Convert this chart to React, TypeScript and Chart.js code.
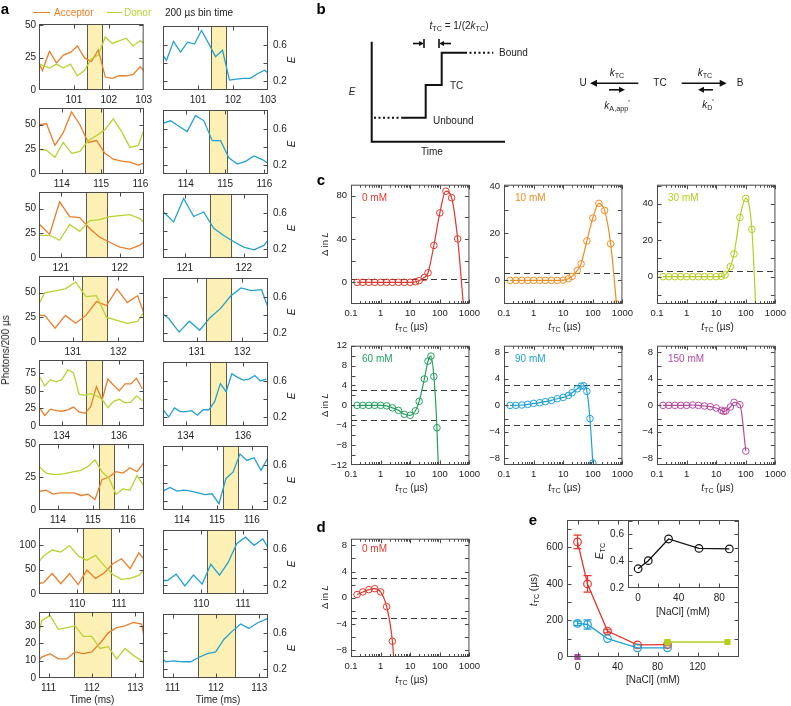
import React, { useEffect, useRef } from 'react';
import { Chart, registerables } from 'chart.js';

Chart.register(...registerables);

const FONT = '"Liberation Sans", Arial, Helvetica, sans-serif';
Chart.defaults.font.family = FONT;

// ---------------- Panel a data ----------------
const rowWindowStart = [100.0, 113.42, 120.63, 130.26, 133.21, 113.46, 109.08, 110.78];
const rowWindowEnd = [103.0, 116.09, 122.41, 132.56, 136.87, 116.46, 111.6, 113.2];
const rowTimeTicks = [[101, 102, 103], [114, 115, 116], [121, 122], [131, 132], [134, 136], [114, 115, 116], [110, 111], [111, 112, 113]];
const rowPhotonMax = [51, 67, 67, 67, 94, 50, 135, 38];
const rowPhotonTicks = [[0, 25, 50], [0, 25, 50], [0, 25, 50], [0, 25, 50], [0, 25, 50, 75], [0, 25, 50], [0, 50, 100], [0, 10, 20, 30]];
const shadeStart = [101.37, 114.58, 121.42, 131.21, 134.85, 115.16, 110.13, 111.59];
const shadeEnd = [101.8, 115.06, 121.79, 131.76, 135.41, 115.59, 110.8, 112.43];
const binStart = [99.9, 113.4, 120.64, 130.16, 133.21, 113.46, 108.98, 110.65];
const binWidth = [0.2, 0.212, 0.17, 0.226, 0.2, 0.2, 0.208, 0.192];
const fretTicks = [0.2, 0.4, 0.6];
const fretLabels = [0.2, 0.6];

const acceptor1 = [26, 15, 30, 21, 27, 29, 34, 25, 22, 31, 10, 9, 11, 11, 12, 18, 12];
const donor1 = [22, 19, 17, 20, 17, 20, 11, 15, 24, 27, 41, 36, 38, 40, 34, 38, 35];
const fret1 = [0.54, 0.43, 0.64, 0.52, 0.63, 0.61, 0.76, 0.62, 0.47, 0.54, 0.21, 0.22, 0.23, 0.23, 0.28, 0.32, 0.26];
const acceptor2 = [50, 51, 29, 42, 63, 50, 32, 34, 21, 15, 13, 12, 9, 12];
const donor2 = [25, 24, 17, 32, 21, 23, 34, 39, 45, 56, 43, 27, 29, 52];
const fret2 = [0.66, 0.69, 0.63, 0.57, 0.75, 0.69, 0.47, 0.47, 0.28, 0.21, 0.24, 0.3, 0.26, 0.2];
const acceptor3 = [34, 24, 57, 42, 41, 30, 21, 16, 11, 9, 13, 21];
const donor3 = [23, 23, 18, 34, 27, 38, 39, 42, 43, 44, 40, 30];
const fret3 = [0.61, 0.5, 0.76, 0.56, 0.61, 0.43, 0.35, 0.28, 0.22, 0.19, 0.24, 0.38];
const acceptor4 = [27, 27, 14, 27, 19, 27, 41, 37, 54, 40, 47, 18];
const donor4 = [30, 50, 52, 54, 61, 46, 47, 25, 22, 19, 21, 36];
const fret4 = [0.45, 0.36, 0.21, 0.33, 0.23, 0.37, 0.47, 0.61, 0.7, 0.67, 0.68, 0.36];
const acceptor5 = [27, 15, 24, 22, 21, 23, 27, 20, 18, 27, 56, 37, 67, 58, 50, 60, 60, 68, 53];
const donor5 = [72, 57, 66, 63, 66, 80, 76, 45, 44, 46, 43, 38, 26, 35, 38, 33, 34, 43, 36];
const fret5 = [0.28, 0.2, 0.3, 0.26, 0.26, 0.27, 0.22, 0.28, 0.28, 0.37, 0.57, 0.48, 0.68, 0.64, 0.61, 0.62, 0.66, 0.6, 0.62];
const acceptor6 = [14, 15, 12, 13, 13, 13, 11, 12, 8, 23, 25, 29, 28, 32, 29, 36];
const donor6 = [33, 28, 27, 27, 28, 29, 30, 33, 38, 29, 24, 12, 16, 15, 26, 18];
const fret6 = [0.31, 0.35, 0.31, 0.32, 0.31, 0.29, 0.27, 0.28, 0.17, 0.45, 0.52, 0.72, 0.65, 0.68, 0.54, 0.68];
const acceptor7 = [20, 23, 42, 21, 42, 19, 49, 32, 43, 62, 72, 52, 84, 62];
const donor7 = [55, 78, 90, 86, 99, 78, 69, 79, 58, 40, 30, 32, 38, 56];
const fret7 = [0.25, 0.25, 0.32, 0.19, 0.31, 0.21, 0.43, 0.31, 0.45, 0.66, 0.73, 0.64, 0.71, 0.55];
const acceptor8 = [6, 12, 14, 11, 11, 15, 14, 15, 20, 26, 29, 30, 32, 31, 5];
const donor8 = [10, 33, 36, 28, 29, 30, 24, 24, 17, 18, 11, 17, 13, 10, 3];
const fret8 = [0.37, 0.28, 0.29, 0.28, 0.28, 0.33, 0.37, 0.39, 0.53, 0.62, 0.7, 0.65, 0.71, 0.75, 0.8];

const acceptorRows = [acceptor1, acceptor2, acceptor3, acceptor4, acceptor5, acceptor6, acceptor7, acceptor8];
const donorRows = [donor1, donor2, donor3, donor4, donor5, donor6, donor7, donor8];
const fretRows = [fret1, fret2, fret3, fret4, fret5, fret6, fret7, fret8];

// ---------------- Panel b (schematic, in schematic units) ----------------
const schemeAxisT = [0, 0, 133.3];
const schemeAxisE = [100, 0, 0];
const schemeUnboundT = [2.3, 30];
const schemeUnboundE = [24, 24];
const schemeTraceT = [30, 54, 54, 70, 70, 93.3];
const schemeTraceE = [24, 24, 56.7, 56.7, 89, 89];
const schemeBoundT = [93.3, 121.6];
const schemeBoundE = [89, 89];

// ---------------- Panel c / d data ----------------
const tTC0 = [0.16, 0.25, 0.4, 0.63, 1, 1.6, 2.5, 4, 6.3, 10, 15, 20, 30, 40, 63, 100, 160, 250, 400, 630];
const dL0 = [0, 0, 0, 0, 0, 0, 0, 0, 0, 0, 0.5, 1.5, 4.5, 8.8, 34, 64, 84, 78, 40, -22];
const tTC10 = [0.16, 0.25, 0.4, 0.63, 1, 1.6, 2.5, 4, 6.3, 10, 15, 20, 30, 40, 63, 100, 160, 250, 400, 630];
const dL10 = [0, 0, 0, 0, 0, 0, 0, 0, 0, 0.1, 0.7, 1.7, 4.2, 7, 16.7, 26.4, 32.6, 29.6, 15.5, -10];
const tTC30 = [0.16, 0.25, 0.4, 0.63, 1, 1.6, 2.5, 4, 6.3, 10, 15, 20, 30, 40, 63, 100, 160, 250];
const dL30 = [0, 0, 0, 0, 0, 0, 0, 0, 0, 0, 0.2, 1, 5.5, 12.5, 32.5, 43, 26, -41];
const tTC60 = [0.16, 0.25, 0.4, 0.63, 1, 1.6, 2.5, 4, 6.3, 10, 15, 20, 30, 40, 50, 63, 80, 90];
const dL60 = [0, 0, 0, 0, 0, -0.1, -0.5, -1.0, -1.8, -2.0, -1.1, 0.8, 5.3, 8.9, 9.9, 5.8, -4.5, -13.5];
const tTC90 = [0.16, 0.25, 0.4, 0.63, 1, 1.6, 2.5, 4, 6.3, 10, 15, 20, 30, 40, 50, 63, 80, 100];
const dL90 = [0, 0, 0.05, 0.15, 0.3, 0.4, 0.55, 0.75, 1.0, 1.2, 1.5, 1.9, 2.5, 2.9, 2.95, 2.1, -2.0, -8.7];
const tTC150 = [0.16, 0.25, 0.4, 0.63, 1, 1.6, 2.5, 4, 6.3, 10, 15, 18, 21, 30, 40, 63, 100];
const dL150 = [0, 0, 0, 0, 0, 0.05, 0, -0.1, -0.2, -0.4, -0.75, -0.9, -0.85, -0.25, 0.45, 0.1, -6.9];
const tTCd = [0.16, 0.25, 0.4, 0.63, 1, 1.6, 2.5, 4];
const dLd = [0.5, 0.9, 1.25, 1.4, 0.9, -1.35, -6.6, -20];
const logTicks = [0.1, 1, 10, 100, 1000];

// ---------------- Panel e data ----------------
const naclConc = [0, 10, 30, 60, 90];
const tcMethodRed = [630, 400, 142, 66, 68];
const tcMethodRedErr = [37, 45, 10, 0, 0];
const tcMethodBlue = [184, 178, 101, 50, 50];
const tcMethodBlueErr = [12, 25, 0, 0, 0];
const naclHigh = [90, 150];
const tcHigh = [82, 82];
const naclOrange = [90];
const tcOrange = [74];
const naclPurple = [0];
const tcPurple = [0];
const eTC = [0.343, 0.403, 0.564, 0.494, 0.49];

// ---------------- Colours ----------------
const ACC = '#eb7d28';
const DON = '#b9d232';
const EBLUE = '#23a0d2';
const SHADE = '#fdf0b4';
const FRAME = '#4a4a4a';
const C_RED = '#e1372d';
const C_ORANGE = '#f08c23';
const C_YG = '#b4cd1e';
const C_GREEN = '#23a05f';
const C_BLUE = '#1ea0d7';
const C_MAG = '#b44ba0';

type Ax = { min: number; max: number; ticks: number[]; labels: number[]; log?: boolean };

const pts = (xs: number[], ys: number[]) => xs.map((x, i) => ({ x, y: ys[i] }));

function fmt(v: number) {
  return v < 0 ? '\u2212' + String(-v) : String(v);
}

const framePlugin = {
  id: 'frame',
  beforeDatasetsDraw(chart: any, _args: any, o: any) {
    const { ctx, chartArea: a } = chart;
    const xs = chart.scales.x;
    const ys = chart.scales.y;
    ctx.save();
    if (o.fill) {
      ctx.fillStyle = o.fill;
      ctx.fillRect(a.left, a.top, a.right - a.left, a.bottom - a.top);
    }
    if (o.shade) {
      const x1 = Math.round(xs.getPixelForValue(o.shade[0]));
      const x2 = Math.round(xs.getPixelForValue(o.shade[1]));
      ctx.fillStyle = SHADE;
      ctx.fillRect(x1, a.top, x2 - x1, a.bottom - a.top);
      ctx.strokeStyle = '#5f5b4a';
      ctx.lineWidth = 1;
      [x1, x2].forEach((xx) => {
        ctx.beginPath();
        ctx.moveTo(xx + 0.5, a.top);
        ctx.lineTo(xx + 0.5, a.bottom);
        ctx.stroke();
      });
    }
    if (o.hlines) {
      ctx.strokeStyle = '#3a3a3a';
      ctx.lineWidth = 1;
      ctx.setLineDash([6, 4]);
      o.hlines.forEach((v: number) => {
        const yy = Math.round(ys.getPixelForValue(v)) + 0.5;
        ctx.beginPath();
        ctx.moveTo(a.left, yy);
        ctx.lineTo(a.right, yy);
        ctx.stroke();
      });
      ctx.setLineDash([]);
    }
    ctx.restore();
  },
  afterDatasetsDraw(chart: any, _args: any, o: any) {
    const { ctx, chartArea: a } = chart;
    const xs = chart.scales.x;
    const ys = chart.scales.y;
    ctx.save();
    if (o.errors) {
      o.errors.forEach((e: any) => {
        const ds = chart.data.datasets[e.ds];
        ctx.strokeStyle = ds.borderColor;
        ctx.lineWidth = 1.2;
        ds.data.forEach((p: any, i: number) => {
          const err = e.err[i];
          if (!err) return;
          const px = xs.getPixelForValue(p.x);
          const y1 = ys.getPixelForValue(p.y + err);
          const y2 = ys.getPixelForValue(p.y - err);
          ctx.beginPath();
          ctx.moveTo(px, y1);
          ctx.lineTo(px, y2);
          ctx.moveTo(px - 4, y1);
          ctx.lineTo(px + 4, y1);
          ctx.moveTo(px - 4, y2);
          ctx.lineTo(px + 4, y2);
          ctx.stroke();
        });
      });
    }
    const L = a.left + 0.5;
    const R = a.right - 0.5;
    const T = a.top + 0.5;
    const B = a.bottom - 0.5;
    ctx.strokeStyle = FRAME;
    ctx.lineWidth = 1;
    const seg = (x1: number, y1: number, x2: number, y2: number) => {
      ctx.beginPath();
      ctx.moveTo(x1, y1);
      ctx.lineTo(x2, y2);
      ctx.stroke();
    };
    const major = 4;
    const minor = 2.5;
    xs.ticks.forEach((t: any) => {
      const p = Math.round(xs.getPixelForValue(t.value)) + 0.5;
      if (p < L - 0.6 || p > R + 0.6) return;
      seg(p, B, p, B - major);
      seg(p, T, p, T + major);
    });
    if (xs.type === 'logarithmic') {
      const d0 = Math.floor(Math.log10(xs.min));
      const d1 = Math.ceil(Math.log10(xs.max));
      for (let d = d0; d < d1; d++) {
        for (let m = 2; m <= 9; m++) {
          const v = m * Math.pow(10, d);
          if (v <= xs.min || v >= xs.max) continue;
          const p = Math.round(xs.getPixelForValue(v)) + 0.5;
          seg(p, B, p, B - minor);
          seg(p, T, p, T + minor);
        }
      }
    }
    ys.ticks.forEach((t: any) => {
      const p = Math.round(ys.getPixelForValue(t.value)) + 0.5;
      if (p < T - 0.6 || p > B + 0.6) return;
      seg(L, p, L + major, p);
      seg(R, p, R - major, p);
    });
    ctx.strokeRect(L, T, R - L, B - T);
    ctx.restore();
  },
};

const schemePlugin = {
  id: 'scheme',
  afterDatasetsDraw(chart: any, _args: any, o: any) {
    const { ctx } = chart;
    const xs = chart.scales.x;
    const ys = chart.scales.y;
    ctx.save();
    ctx.strokeStyle = '#111';
    ctx.fillStyle = '#111';
    (o.arrows || []).forEach((ar: number[]) => {
      const x1 = xs.getPixelForValue(ar[0]);
      const y1 = ys.getPixelForValue(ar[1]);
      const x2 = xs.getPixelForValue(ar[2]);
      const y2 = ys.getPixelForValue(ar[3]);
      const head = ar[4];
      const dir = Math.sign(x2 - x1);
      ctx.lineWidth = 1.6;
      ctx.beginPath();
      ctx.moveTo(x1, y1);
      ctx.lineTo(x2 - dir * head * 0.8, y2);
      ctx.stroke();
      ctx.beginPath();
      ctx.moveTo(x2, y2);
      ctx.lineTo(x2 - dir * head, y2 - head * 0.5);
      ctx.lineTo(x2 - dir * head, y2 + head * 0.5);
      ctx.closePath();
      ctx.fill();
    });
    (o.bars || []).forEach((b: number[]) => {
      const x = xs.getPixelForValue(b[0]);
      ctx.lineWidth = 1.6;
      ctx.beginPath();
      ctx.moveTo(x, ys.getPixelForValue(b[1]));
      ctx.lineTo(x, ys.getPixelForValue(b[2]));
      ctx.stroke();
    });
    ctx.restore();
  },
};

function axisOpts(ax: Ax, position: string, size: number, fontSize: number, pad: number) {
  return {
    type: ax.log ? 'logarithmic' : 'linear',
    position,
    min: ax.min,
    max: ax.max,
    grid: { display: false, drawTicks: false },
    border: { display: false },
    afterBuildTicks: (s: any) => {
      s.ticks = ax.ticks.map((v) => ({ value: v }));
    },
    afterFit: (s: any) => {
      if (position === 'bottom') s.height = size;
      else s.width = size;
    },
    ticks: {
      autoSkip: false,
      maxRotation: 0,
      minRotation: 0,
      padding: pad,
      color: '#222',
      font: { size: fontSize, family: FONT },
      callback: (v: number) => (ax.labels.indexOf(v) >= 0 ? fmt(v) : ''),
    },
  };
}

interface PlotSpec {
  px: number; py: number; pw: number; ph: number;
  ml: number; mr: number; mt: number; mb: number;
  x: Ax; y: Ax; yPos: 'left' | 'right';
  datasets: any[]; fontSize: number; xPad: number; yPad: number;
  frame: any;
}

type Built = { left: number; top: number; width: number; height: number; config: any };

function buildPlot(s: PlotSpec): Built {
  const width = s.ml + s.pw + s.mr;
  const height = s.mt + s.ph + s.mb;
  const config = {
    type: 'line',
    data: { datasets: s.datasets },
    options: {
      responsive: false,
      animation: false,
      events: [],
      layout: {
        padding: {
          left: s.yPos === 'left' ? 0 : s.ml,
          right: s.yPos === 'right' ? 0 : s.mr,
          top: s.mt,
          bottom: 0,
        },
      },
      plugins: { legend: { display: false }, tooltip: { enabled: false }, frame: s.frame },
      scales: {
        x: axisOpts(s.x, 'bottom', s.mb, s.fontSize, s.xPad),
        y: axisOpts(s.y, s.yPos, s.yPos === 'left' ? s.ml : s.mr, s.fontSize, s.yPad),
      },
    },
    plugins: [framePlugin],
  };
  return { left: s.px - s.ml, top: s.py - s.mt, width, height, config };
}

function ChartCanvas({ spec }: { spec: Built }) {
  const ref = useRef<HTMLCanvasElement | null>(null);
  useEffect(() => {
    const chart = new Chart(ref.current as HTMLCanvasElement, spec.config);
    return () => chart.destroy();
  }, []);
  return (
    <canvas
      ref={ref}
      width={spec.width}
      height={spec.height}
      style={{ position: 'absolute', left: spec.left, top: spec.top, width: spec.width, height: spec.height }}
    />
  );
}

const traceLine = (data: any[], color: string) => ({
  data,
  borderColor: color,
  borderWidth: 1.3,
  pointRadius: 0,
  tension: 0,
});

const curveLine = (data: any[], color: string) => ({
  data,
  borderColor: color,
  borderWidth: 1.2,
  pointRadius: 3.3,
  pointBorderWidth: 1,
  pointBorderColor: color,
  pointBackgroundColor: 'rgba(255,255,255,0)',
  cubicInterpolationMode: 'monotone',
});

function rowSeries(r: number, vals: number[]) {
  return vals.map((v, i) => ({ x: binStart[r] + i * binWidth[r], y: v }));
}

function buildRows(): Built[] {
  const out: Built[] = [];
  for (let r = 0; r < 8; r++) {
    const py = 23 + 84 * r;
    const xAx: Ax = { min: rowWindowStart[r], max: rowWindowEnd[r], ticks: rowTimeTicks[r], labels: rowTimeTicks[r] };
    out.push(
      buildPlot({
        px: 39, py, pw: 105, ph: 67, ml: 39, mr: 12, mt: 8, mb: 16,
        x: xAx,
        y: { min: 0, max: rowPhotonMax[r], ticks: rowPhotonTicks[r], labels: rowPhotonTicks[r] },
        yPos: 'left', fontSize: 10, xPad: 4, yPad: 3,
        datasets: [traceLine(rowSeries(r, donorRows[r]), DON), traceLine(rowSeries(r, acceptorRows[r]), ACC)],
        frame: { shade: [shadeStart[r], shadeEnd[r]] },
      })
    );
    out.push(
      buildPlot({
        px: 163, py, pw: 105, ph: 67, ml: 10, mr: 28, mt: 8, mb: 16,
        x: xAx,
        y: { min: 0.1, max: 0.81, ticks: fretTicks, labels: fretLabels },
        yPos: 'right', fontSize: 10, xPad: 4, yPad: 5,
        datasets: [traceLine(rowSeries(r, fretRows[r]), EBLUE)],
        frame: { shade: [shadeStart[r], shadeEnd[r]] },
      })
    );
  }
  return out;
}

const logAx: Ax = { min: 0.1, max: 1000, ticks: logTicks, labels: logTicks, log: true };

function cPlot(px: number, py: number, ph: number, y: Ax, t: number[], v: number[], color: string, hlines: number[]) {
  return buildPlot({
    px, py, pw: 121, ph, ml: 30, mr: 12, mt: 8, mb: 18,
    x: logAx, y, yPos: 'left', fontSize: 9.5, xPad: 4, yPad: 4,
    datasets: [curveLine(pts(t, v), color)],
    frame: { hlines },
  });
}

const step2_8 = [-8, -6, -4, -2, 0, 2, 4, 6, 8];
const lab4_8 = [-8, -4, 0, 4, 8];

function buildC(): Built[] {
  return [
    cPlot(351, 183, 121, { min: -20, max: 90, ticks: [-20, 0, 20, 40, 60, 80], labels: [0, 40, 80] }, tTC0, dL0, C_RED, [3]),
    cPlot(504, 183, 121, { min: -10, max: 40.5, ticks: [-10, 0, 10, 20, 30, 40], labels: [0, 20, 40] }, tTC10, dL10, C_ORANGE, [3]),
    cPlot(657, 183, 121, { min: -15, max: 50.5, ticks: [-10, 0, 10, 20, 30, 40, 50], labels: [0, 20, 40] }, tTC30, dL30, C_YG, [3]),
    cPlot(351, 344, 121, { min: -12, max: 12, ticks: [-12, -10, -8, -6, -4, -2, 0, 2, 4, 6, 8, 10, 12], labels: [-12, -8, -4, 0, 4, 8, 12] }, tTC60, dL60, C_GREEN, [3, -3]),
    cPlot(504, 344, 121, { min: -9, max: 9, ticks: step2_8, labels: lab4_8 }, tTC90, dL90, C_BLUE, [3, -3]),
    cPlot(657, 344, 121, { min: -9, max: 9, ticks: step2_8, labels: lab4_8 }, tTC150, dL150, C_MAG, [3, -3]),
    cPlot(351, 537, 120, { min: -9, max: 9, ticks: step2_8, labels: lab4_8 }, tTCd, dLd, C_RED, [3, -3]),
  ];
}

function buildE(): Built[] {
  const hollow = (data: any[], color: string) => ({
    data,
    borderColor: color,
    borderWidth: 1.3,
    pointRadius: 3.8,
    pointBorderWidth: 1.2,
    pointBorderColor: color,
    pointBackgroundColor: 'rgba(255,255,255,0)',
    tension: 0,
    clip: false,
  });
  const square = (data: any[], color: string, line: boolean) => ({
    data,
    showLine: line,
    borderColor: color,
    backgroundColor: color,
    borderWidth: 1.5,
    pointStyle: 'rect',
    pointRadius: 3.3,
    pointBackgroundColor: color,
    pointBorderColor: color,
    clip: false,
  });
  const main = buildPlot({
    px: 567, py: 518, pw: 172, ph: 139, ml: 35, mr: 10, mt: 8, mb: 18,
    x: { min: -10.5, max: 161.5, ticks: [0, 20, 40, 60, 80, 100, 120, 140, 160], labels: [0, 40, 80, 120] },
    y: { min: 0, max: 750, ticks: [0, 100, 200, 300, 400, 500, 600, 700], labels: [0, 200, 400, 600] },
    yPos: 'left', fontSize: 10, xPad: 4, yPad: 4,
    datasets: [
      square(pts(naclHigh, tcHigh), C_YG, true),
      hollow(pts(naclConc, tcMethodBlue), C_BLUE),
      square(pts(naclOrange, tcOrange), C_ORANGE, false),
      hollow(pts(naclConc, tcMethodRed), C_RED),
      square(pts(naclPurple, tcPurple), C_MAG, false),
    ],
    frame: { errors: [{ ds: 3, err: tcMethodRedErr }, { ds: 1, err: tcMethodBlueErr }] },
  });
  const inset = buildPlot({
    px: 628, py: 518, pw: 111, ph: 70, ml: 28, mr: 10, mt: 8, mb: 18,
    x: { min: -10, max: 99.5, ticks: [0, 20, 40, 60, 80], labels: [0, 40, 80] },
    y: { min: 0.2, max: 0.705, ticks: [0.2, 0.3, 0.4, 0.5, 0.6, 0.7], labels: [0.2, 0.4, 0.6] },
    yPos: 'left', fontSize: 10, xPad: 4, yPad: 4,
    datasets: [hollow(pts(naclConc, eTC), '#111')],
    frame: { fill: '#ffffff' },
  });
  return [main, inset];
}

function buildScheme(): Built {
  const line = (t: number[], e: number[], dash: number[]) => ({
    data: pts(t, e),
    borderColor: '#111',
    borderWidth: 2,
    pointRadius: 0,
    borderDash: dash,
    tension: 0,
    clip: false,
    borderJoinStyle: 'miter',
  });
  const config = {
    type: 'line',
    data: {
      datasets: [
        line(schemeAxisT, schemeAxisE, []),
        line(schemeUnboundT, schemeUnboundE, [2, 2.5]),
        line(schemeTraceT, schemeTraceE, []),
        line(schemeBoundT, schemeBoundE, [2, 2.5]),
      ],
    },
    options: {
      responsive: false,
      animation: false,
      events: [],
      layout: { padding: 0 },
      plugins: {
        legend: { display: false },
        tooltip: { enabled: false },
        scheme: {
          arrows: [
            [41.3, 98.2, 52.3, 98.2, 5],
            [79.3, 98.2, 67.3, 98.2, 5],
            [266.6, 58.4, 218.3, 58.4, 7],
            [237.3, 51.9, 253.3, 51.9, 6],
            [310, 58.4, 355, 58.4, 7],
            [341.3, 51.9, 326.3, 51.9, 6],
          ],
          bars: [
            [52.3, 93.7, 102.7],
            [67.3, 93.7, 102.7],
          ],
        },
      },
      scales: {
        x: { type: 'linear', display: false, min: -41.7, max: 408.3 },
        y: { type: 'linear', display: false, min: -23.3, max: 126.7 },
      },
    },
    plugins: [schemePlugin],
  };
  return { left: 330, top: 15, width: 450, height: 150, config };
}

const Sub = ({ children }: { children: any }) => (
  <span style={{ fontSize: '0.72em', position: 'relative', top: '0.3em' }}>{children}</span>
);
const Sup = ({ children }: { children: any }) => (
  <span style={{ fontSize: '0.8em', position: 'relative', top: '-0.45em' }}>{children}</span>
);

function Txt({ x, y, children, size = 10, color = '#222', rot = false, align = 'center', bold = false, italic = false }: any) {
  const tr = (align === 'center' ? 'translate(-50%,-50%)' : 'translate(0,-50%)') + (rot ? ' rotate(-90deg)' : '');
  return (
    <div
      style={{
        position: 'absolute',
        left: x,
        top: y,
        transform: tr,
        fontSize: size,
        color,
        whiteSpace: 'nowrap',
        lineHeight: 1,
        fontWeight: bold ? 700 : 400,
        fontStyle: italic ? 'italic' : 'normal',
        fontFamily: FONT,
      }}
    >
      {children}
    </div>
  );
}

const TTC = () => (
  <>
    <i>t</i>
    <Sub>TC</Sub> (µs)
  </>
);

export default function App() {
  const rows = buildRows();
  const cs = buildC();
  const es = buildE();
  const scheme = buildScheme();
  const all = [...rows, scheme, ...cs, ...es];
  const cCenters = [411.5, 564.5, 717.5];
  return (
    <div style={{ position: 'absolute', left: 0, top: 0, width: 791, height: 706, background: '#fff', overflow: 'hidden', fontFamily: FONT }}>
      {all.map((s, i) => (
        <ChartCanvas key={i} spec={s} />
      ))}

      {/* Panel a texts */}
      <Txt x={5} y={8} size={15} bold color="#000">a</Txt>
      <div style={{ position: 'absolute', left: 33, top: 12, width: 17, borderTop: `1.5px solid ${ACC}` }} />
      <Txt x={54} y={13} align="left" color={ACC}>Acceptor</Txt>
      <div style={{ position: 'absolute', left: 107, top: 12, width: 15, borderTop: `1.5px solid ${DON}` }} />
      <Txt x={124} y={13} align="left" color={DON}>Donor</Txt>
      <Txt x={165} y={13} align="left">200 µs bin time</Txt>
      <Txt x={6} y={350} rot>Photons/200 µs</Txt>
      {rowWindowStart.map((_, r) => (
        <Txt key={'E' + r} x={292} y={23 + 84 * r + 37} rot italic>E</Txt>
      ))}
      <Txt x={92} y={700}>Time (ms)</Txt>
      <Txt x={218} y={700}>Time (ms)</Txt>

      {/* Panel b texts */}
      <Txt x={321} y={8} size={15} bold color="#000">b</Txt>
      <Txt x={459} y={26}>
        <i>t</i>
        <Sub>TC</Sub> = 1/(2<i>k</i>
        <Sub>TC</Sub>)
      </Txt>
      <Txt x={499} y={53} align="left">Bound</Txt>
      <Txt x={450} y={86} align="left">TC</Txt>
      <Txt x={433} y={121} align="left">Unbound</Txt>
      <Txt x={352} y={92} italic>E</Txt>
      <Txt x={432} y={152}>Time</Txt>
      <Txt x={583} y={83}>U</Txt>
      <Txt x={617} y={73}>
        <i>k</i>
        <Sub>TC</Sub>
      </Txt>
      <Txt x={617} y={106}>
        <i>k</i>
        <Sub>A,app</Sub>
        <Sup>′</Sup>
      </Txt>
      <Txt x={660} y={83}>TC</Txt>
      <Txt x={705} y={73}>
        <i>k</i>
        <Sub>TC</Sub>
      </Txt>
      <Txt x={708} y={105}>
        <i>k</i>
        <Sub>D</Sub>
        <Sup>′</Sup>
      </Txt>
      <Txt x={740} y={83}>B</Txt>

      {/* Panel c texts */}
      <Txt x={321} y={179} size={15} bold color="#000">c</Txt>
      <Txt x={362} y={198} align="left" color={C_RED}>0 mM</Txt>
      <Txt x={515} y={198} align="left" color={C_ORANGE}>10 mM</Txt>
      <Txt x={668} y={198} align="left" color={C_YG}>30 mM</Txt>
      <Txt x={362} y={359} align="left" color={C_GREEN}>60 mM</Txt>
      <Txt x={515} y={359} align="left" color={C_BLUE}>90 mM</Txt>
      <Txt x={668} y={359} align="left" color={C_MAG}>150 mM</Txt>
      <Txt x={325} y={243.5} rot size={9.5}>Δ in <i>L</i></Txt>
      <Txt x={325} y={404.5} rot size={9.5}>Δ in <i>L</i></Txt>
      {cCenters.map((cx) => (
        <Txt key={'t1' + cx} x={cx} y={327}><TTC /></Txt>
      ))}
      {cCenters.map((cx) => (
        <Txt key={'t2' + cx} x={cx} y={488}><TTC /></Txt>
      ))}

      {/* Panel d texts */}
      <Txt x={321} y={526} size={15} bold color="#000">d</Txt>
      <Txt x={362} y={549} align="left" color={C_RED}>0 mM</Txt>
      <Txt x={325} y={597} rot size={9.5}>Δ in <i>L</i></Txt>
      <Txt x={411.5} y={680}><TTC /></Txt>

      {/* Panel e texts */}
      <Txt x={533} y={519} size={15} bold color="#000">e</Txt>
      <Txt x={534} y={590} rot><TTC /></Txt>
      <Txt x={653} y={680}>[NaCl] (mM)</Txt>
      <Txt x={600} y={551} rot>
        <i>E</i>
        <Sub>TC</Sub>
      </Txt>
      <Txt x={683} y={612}>[NaCl] (mM)</Txt>
    </div>
  );
}
